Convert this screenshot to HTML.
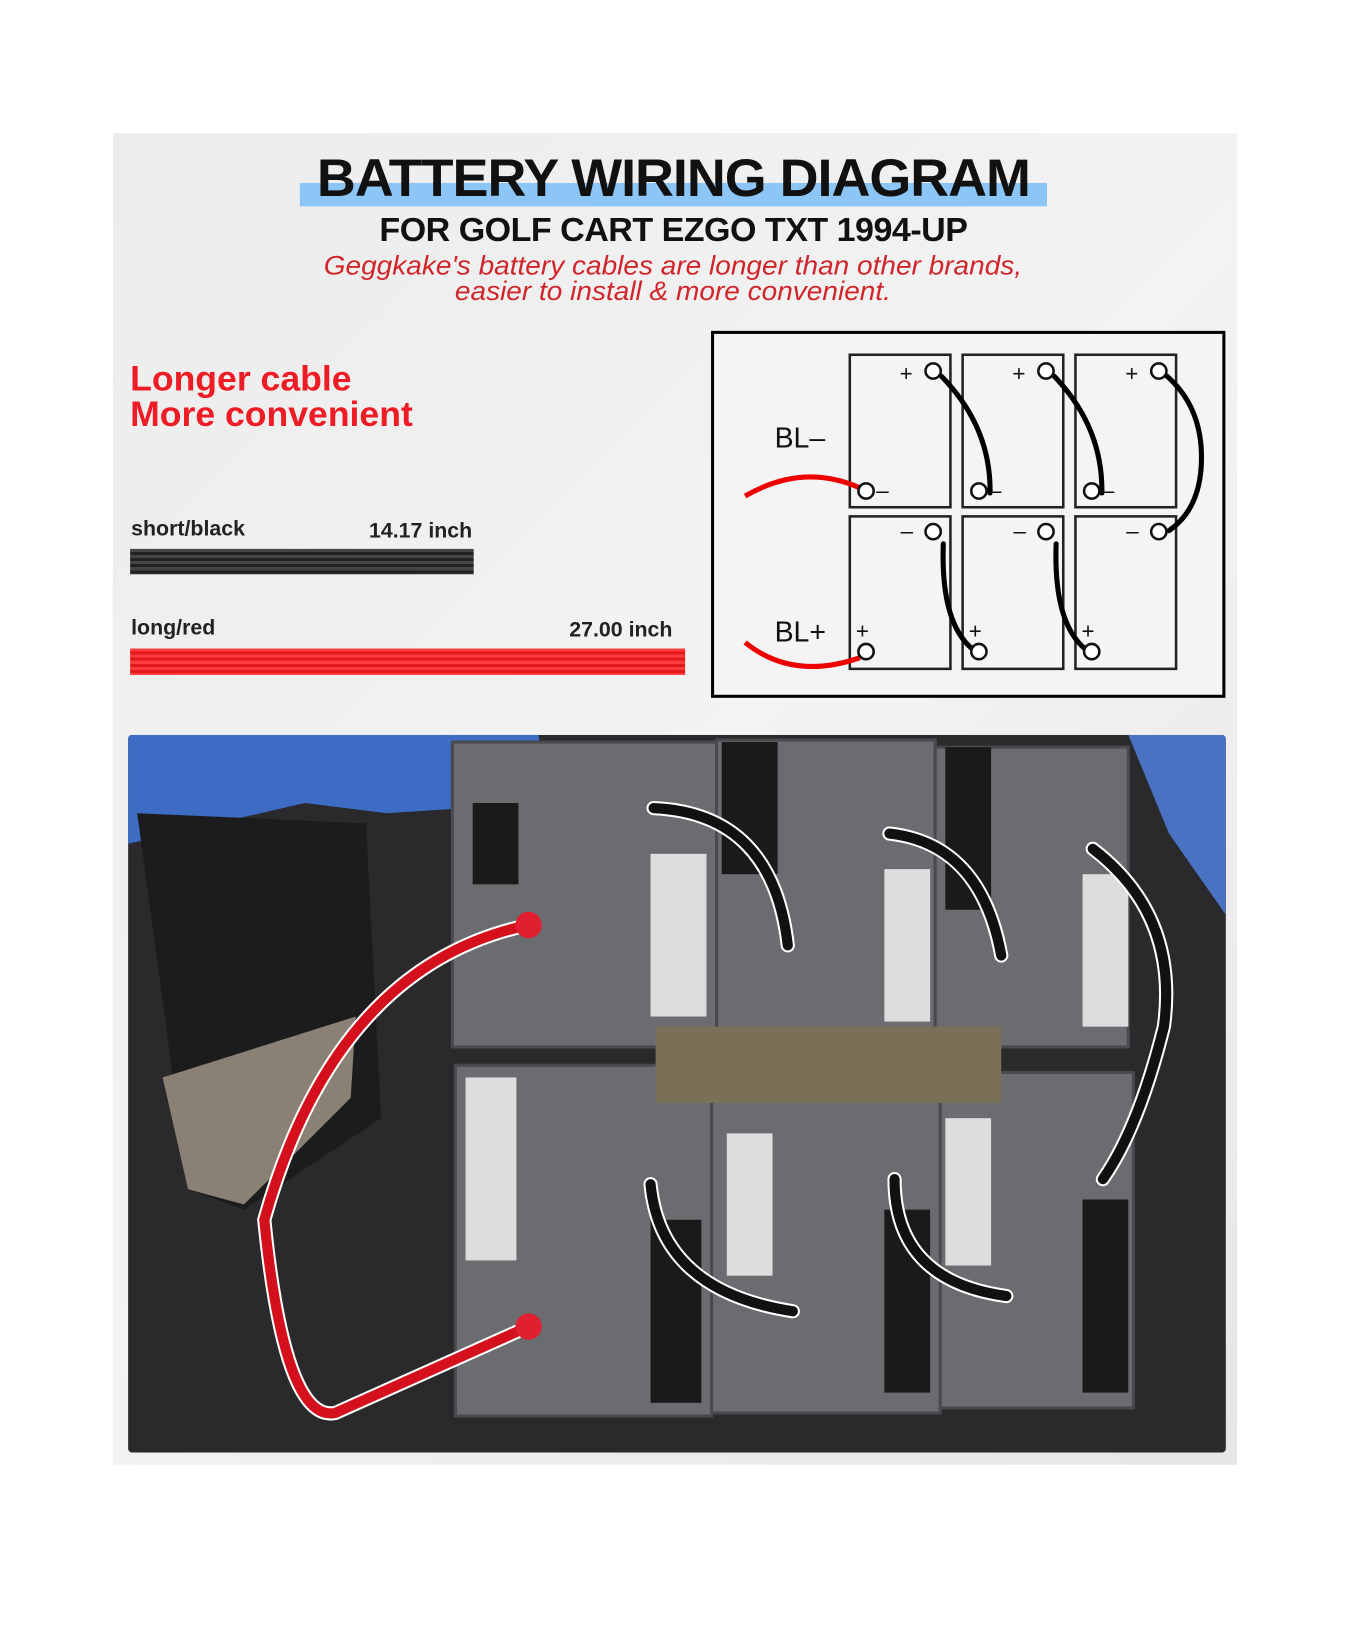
<!DOCTYPE html>
<html><head><style>
body{margin:0;width:1352px;height:1600px;background:#fff;overflow:hidden;font-family:"Liberation Sans",sans-serif}
#w{position:relative;width:1330px;height:1574px;transform:scale(1.0165);transform-origin:0 0}
.panel{position:absolute;left:111px;top:131px;width:1106px;height:1310px;background:linear-gradient(135deg,#ececec,#f3f3f3 50%,#e6e6e6)}
.abs{position:absolute}
</style></head><body><div id="w">
<div class="panel"></div>
<div class="abs" style="left:295px;top:180px;width:735px;height:23px;background:#8cc6f7"></div>
<div class="abs" style="left:295px;top:146px;width:735px;text-align:center;font:bold 52px 'Liberation Sans',sans-serif;letter-spacing:-1px;color:#111;transform:scaleX(1.02)">BATTERY WIRING DIAGRAM</div>
<div class="abs" style="left:295px;top:207px;width:735px;text-align:center;font:bold 33px 'Liberation Sans',sans-serif;color:#111;letter-spacing:-0.5px;transform:scaleX(1.015)">FOR GOLF CART EZGO TXT 1994-UP</div>
<div class="abs" style="left:212px;top:249px;width:900px;text-align:center;font:italic 26px/25px 'Liberation Sans',sans-serif;color:#d0262b;transform:scaleX(1.06)">Geggkake's battery cables are longer than other brands,<br>easier to install &amp; more convenient.</div>
<div class="abs" style="left:128px;top:355px;font:bold 35px/35px 'Liberation Sans',sans-serif;color:#ee1c24">Longer cable<br>More convenient</div>
<div class="abs" style="left:129px;top:509px;font:bold 21px 'Liberation Sans',sans-serif;color:#222">short/black</div>
<div class="abs" style="left:363px;top:511px;font:bold 21px 'Liberation Sans',sans-serif;color:#222">14.17 inch</div>
<div class="abs" style="left:128px;top:540px;width:338px;height:25px;background:repeating-linear-gradient(#444 0 3px,#222 3px 6px)"></div>
<div class="abs" style="left:129px;top:606px;font:bold 21px 'Liberation Sans',sans-serif;color:#222">long/red</div>
<div class="abs" style="left:560px;top:608px;font:bold 21px 'Liberation Sans',sans-serif;color:#222">27.00 inch</div>
<div class="abs" style="left:128px;top:638px;width:546px;height:26px;background:repeating-linear-gradient(#ff3b3b 0 3px,#e21a1a 3px 6px)"></div>

<svg class="abs" style="left:0;top:0" width="1352" height="1600">
<rect x="701" y="327" width="503" height="358" fill="#f4f4f4" stroke="#000" stroke-width="3"/>
<g fill="none" stroke="#222" stroke-width="2.5">
<rect x="836" y="349" width="99" height="150"/><rect x="947" y="349" width="99" height="150"/><rect x="1058" y="349" width="99" height="150"/>
<rect x="836" y="508" width="99" height="150"/><rect x="947" y="508" width="99" height="150"/><rect x="1058" y="508" width="99" height="150"/>
</g>
<g fill="none" stroke="#000" stroke-width="5" stroke-linecap="round">
<path d="M926 370 Q975 420 974 485"/><path d="M1037 370 Q1085 420 1084 485"/>
<path d="M1148 370 Q1182 400 1182 450 Q1182 500 1150 522"/>
<path d="M928 535 Q925 620 963 643"/><path d="M1039 535 Q1036 620 1074 643"/>
</g>
<g fill="none" stroke="#e00" stroke-width="5">
<path d="M733 488 Q790 455 846 480"/><path d="M733 632 Q780 670 846 647"/>
</g>
<g fill="#fff" stroke="#111" stroke-width="2.5">
<circle cx="918" cy="365" r="7.5"/><circle cx="1029" cy="365" r="7.5"/><circle cx="1140" cy="365" r="7.5"/>
<circle cx="852" cy="483" r="7.5"/><circle cx="963" cy="483" r="7.5"/><circle cx="1074" cy="483" r="7.5"/>
<circle cx="918" cy="523" r="7.5"/><circle cx="1029" cy="523" r="7.5"/><circle cx="1140" cy="523" r="7.5"/>
<circle cx="852" cy="641" r="7.5"/><circle cx="963" cy="641" r="7.5"/><circle cx="1074" cy="641" r="7.5"/>
</g>
<g font-family="Liberation Sans" font-size="22" fill="#111">
<text x="885" y="375">+</text><text x="996" y="375">+</text><text x="1107" y="375">+</text>
<text x="862" y="490">–</text><text x="973" y="490">–</text><text x="1084" y="490">–</text>
<text x="886" y="530">–</text><text x="997" y="530">–</text><text x="1108" y="530">–</text>
<text x="842" y="628">+</text><text x="953" y="628">+</text><text x="1064" y="628">+</text>
<text x="762" y="440" font-size="28">BL–</text><text x="762" y="631" font-size="28">BL+</text>
</g>

<defs><clipPath id="c"><rect x="126" y="723" width="1080" height="706" rx="4"/></clipPath></defs>
<g clip-path="url(#c)">
<rect x="126" y="723" width="1080" height="706" fill="#2a2a2c"/>
<path d="M126 723 H530 L535 790 L380 800 L300 790 L126 830 Z" fill="#3d6cc4"/>
<path d="M1110 723 H1206 V900 L1150 820 Z" fill="#4a72c2"/>
<path d="M135 800 L360 810 L375 1100 L240 1190 L185 1170 Z" fill="#1c1c1f"/>
<path d="M160 1060 L350 1000 L345 1080 L240 1185 L185 1170 Z" fill="#8a8073"/>
<g fill="#6b6c70" stroke="#4a4a4e" stroke-width="3">
<rect x="445" y="730" width="260" height="300"/><rect x="705" y="728" width="215" height="290"/><rect x="920" y="735" width="190" height="295"/>
<rect x="448" y="1048" width="252" height="345"/><rect x="700" y="1050" width="225" height="340"/><rect x="925" y="1055" width="190" height="330"/>
</g>
<rect x="645" y="1010" width="340" height="75" fill="#7a7058"/>
<g fill="#1a1a1a"><rect x="465" y="790" width="45" height="80"/><rect x="710" y="730" width="55" height="130"/><rect x="930" y="735" width="45" height="160"/><rect x="640" y="1200" width="50" height="180"/><rect x="870" y="1190" width="45" height="180"/><rect x="1065" y="1180" width="45" height="190"/></g>
<g fill="#ddd"><rect x="640" y="840" width="55" height="160"/><rect x="870" y="855" width="45" height="150"/><rect x="1065" y="860" width="45" height="150"/><rect x="458" y="1060" width="50" height="180"/><rect x="715" y="1115" width="45" height="140"/><rect x="930" y="1100" width="45" height="145"/></g>
<g fill="none" stroke="#fff" stroke-width="14" stroke-linecap="round">
<path d="M643 795 Q760 800 775 930"/><path d="M875 820 Q965 830 985 940"/><path d="M1075 835 Q1160 900 1145 1010 Q1120 1110 1085 1160"/>
<path d="M640 1165 Q650 1270 780 1290"/><path d="M880 1160 Q880 1260 990 1275"/>
<path d="M520 910 Q330 950 260 1200 Q280 1400 330 1390 L520 1305"/>
</g>
<g fill="none" stroke="#111" stroke-width="10" stroke-linecap="round">
<path d="M643 795 Q760 800 775 930"/><path d="M875 820 Q965 830 985 940"/><path d="M1075 835 Q1160 900 1145 1010 Q1120 1110 1085 1160"/>
<path d="M640 1165 Q650 1270 780 1290"/><path d="M880 1160 Q880 1260 990 1275"/>
</g>
<g fill="none" stroke="#d3101c" stroke-width="10" stroke-linecap="round">
<path d="M520 910 Q330 950 260 1200 Q280 1400 330 1390 L520 1305"/>
</g>
<circle cx="520" cy="910" r="13" fill="#e02030"/><circle cx="520" cy="1305" r="13" fill="#e02030"/>
</g>
</svg>
</div></body></html>
